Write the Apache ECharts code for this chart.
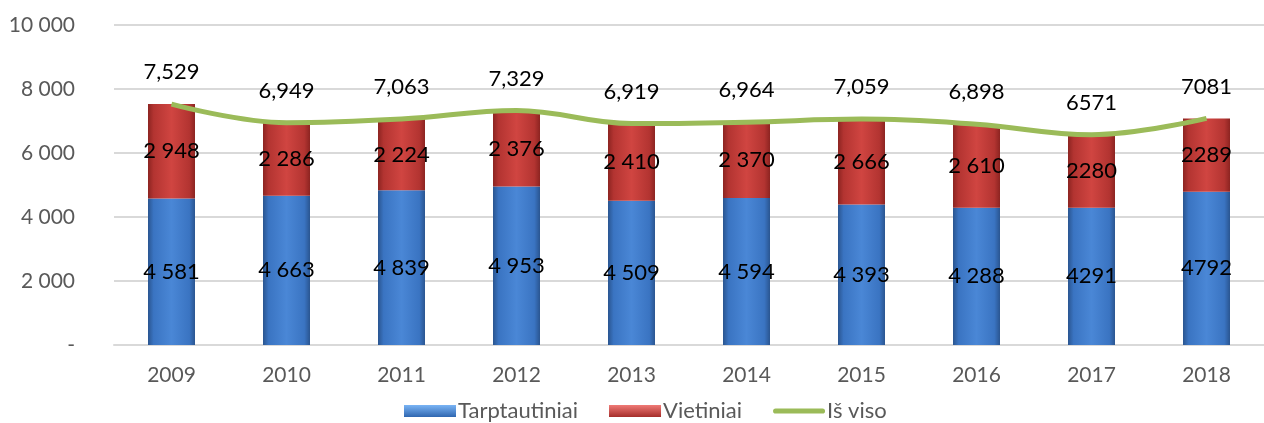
<!DOCTYPE html>
<html>
<head>
<meta charset="utf-8">
<script src="https://cdn.jsdelivr.net/npm/echarts@6/dist/echarts.min.js"></script>
<style>
  html, body { margin: 0; padding: 0; background: #fff; }
  #chart { width: 1264px; height: 423px; }
</style>
</head>
<body>
<div id="chart"></div>
<script>
const years = ['2009', '2010', '2011', '2012', '2013', '2014', '2015', '2016', '2017', '2018']
const international = [4581, 4663, 4839, 4953, 4509, 4594, 4393, 4288, 4291, 4792]
const local = [2948, 2286, 2224, 2376, 2410, 2370, 2666, 2610, 2280, 2289]
const total = [7529, 6949, 7063, 7329, 6919, 6964, 7059, 6898, 6571, 7081]
const yTicks = ['-', '2 000', '4 000', '6 000', '8 000', '10 000']

const FONT = 'Lato'
const GREEN = '#9bbb59'

// the last two years in the source have no thousands separator
const fmt = (v, i, sep) => i >= 8 ? String(v) : Math.floor(v / 1000) + sep + String(v % 1000).padStart(3, '0')

const barGradient = (edge, mid, light) => ({
  type: 'linear', x: 0, y: 0, x2: 1, y2: 0,
  colorStops: [
    { offset: 0, color: edge },
    { offset: 0.12, color: mid },
    { offset: 0.5, color: light },
    { offset: 0.88, color: mid },
    { offset: 1, color: edge }
  ]
})

const iconGradient = (top, bottom) => ({
  type: 'linear', x: 0, y: 0, x2: 0, y2: 1,
  colorStops: [{ offset: 0, color: top }, { offset: 1, color: bottom }]
})

const chart = echarts.init(document.getElementById('chart'))

chart.setOption({
  animation: false,
  textStyle: { fontFamily: FONT },
  grid: { left: 114, right: -12, top: 25, bottom: 78 },
  legend: {
    bottom: -4,
    left: 399,
    itemGap: 31,
    itemWidth: 52,
    itemHeight: 12,
    textStyle: { fontSize: 22, color: '#595959', fontFamily: FONT, padding: [0, 0, 0, -3] },
    data: [
      { name: 'Tarptautiniai', icon: 'rect', itemStyle: { color: iconGradient('#7ab4f5', '#2f66b0') } },
      { name: 'Vietiniai', icon: 'rect', itemStyle: { color: iconGradient('#f07a76', '#a52d2a') } },
      {
        name: 'Iš viso',
        icon: 'path://M5,0 L95,0 A5,5 0 0 1 95,10 L5,10 A5,5 0 0 1 5,0 Z',
        itemStyle: { color: GREEN, opacity: 1 }
      }
    ]
  },
  xAxis: {
    type: 'category',
    data: years,
    axisTick: { show: false },
    axisLine: { lineStyle: { color: '#d9d9d9', width: 2 } },
    axisLabel: { fontSize: 21, color: '#595959', margin: 20 }
  },
  yAxis: {
    type: 'value',
    min: 0,
    max: 10000,
    interval: 2000,
    axisLine: { show: false },
    axisTick: { show: false },
    splitLine: { lineStyle: { color: '#d9d9d9', width: 2 } },
    axisLabel: {
      fontSize: 21,
      color: '#595959',
      margin: 39,
      formatter: (v) => yTicks[v / 2000]
    }
  },
  series: [
    {
      name: 'Tarptautiniai',
      type: 'bar',
      stack: 'all',
      barWidth: 47,
      data: international,
      itemStyle: {
        color: barGradient('#2a5590', '#3a74c2', '#4a87d6')
      },
      label: {
        show: true,
        position: 'inside',
        color: '#000',
        fontSize: 22,
        formatter: (p) => fmt(p.value, p.dataIndex, ' ')
      }
    },
    {
      name: 'Vietiniai',
      type: 'bar',
      stack: 'all',
      barWidth: 47,
      data: local,
      itemStyle: {
        color: barGradient('#8c2421', '#b33431', '#d04541')
      },
      label: {
        show: true,
        position: 'inside',
        color: '#000',
        fontSize: 22,
        formatter: (p) => fmt(p.value, p.dataIndex, ' ')
      }
    },
    {
      name: 'Iš viso',
      type: 'line',
      data: total,
      smooth: 0.4,
      symbol: 'circle',
      symbolSize: 2,
      showSymbol: true,
      z: 5,
      itemStyle: { color: 'rgba(0,0,0,0)' },
      lineStyle: { color: GREEN, width: 5 },
      label: {
        show: true,
        position: 'top',
        distance: 20,
        color: '#000',
        fontSize: 22,
        formatter: (p) => fmt(p.value, p.dataIndex, ',')
      }
    }
  ]
})
</script>
</body>
</html>
